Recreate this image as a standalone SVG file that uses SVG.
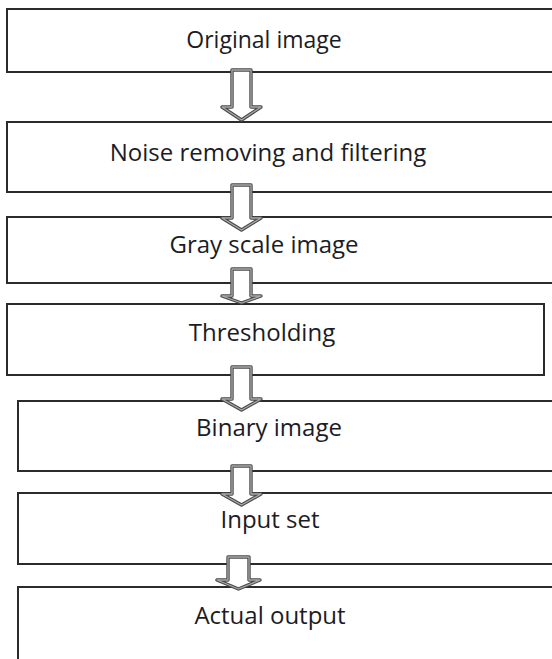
<svg xmlns="http://www.w3.org/2000/svg" width="552" height="659" viewBox="0 0 552 659">
  <style>
    .box { fill: #ffffff; stroke: #2b2b2b; stroke-width: 2; }
    .label { font-family: "Open Sans", "Liberation Sans", sans-serif; font-size: 24px; fill: #1c1c24; text-anchor: middle; }
    .arrow-edge { fill: #ffffff; stroke: #4a4a4a; stroke-width: 3.4; stroke-linejoin: round; }
    .arrow-core { fill: none; stroke: #a8a8a8; stroke-width: 1.3; stroke-linejoin: round; }
  </style>
  <rect width="552" height="659" fill="#ffffff"/>

  <g id="node-original">
    <rect class="box" x="7" y="9" width="560" height="63"/>
    <text class="label" x="264" y="48" style="font-size:23px">Original image</text>
  </g>
  <g id="node-noise">
    <rect class="box" x="7" y="122" width="560" height="70"/>
    <text class="label" x="268" y="161">Noise removing and filtering</text>
  </g>
  <g id="node-gray">
    <rect class="box" x="7" y="217" width="560" height="66"/>
    <text class="label" x="264" y="253">Gray scale image</text>
  </g>
  <g id="node-threshold">
    <rect class="box" x="7" y="304" width="537" height="71"/>
    <text class="label" x="262" y="341">Thresholding</text>
  </g>
  <g id="node-binary">
    <rect class="box" x="18" y="401" width="549" height="70"/>
    <text class="label" x="269" y="436">Binary image</text>
  </g>
  <g id="node-input">
    <rect class="box" x="18" y="493" width="549" height="71"/>
    <text class="label" x="270" y="528">Input set</text>
  </g>
  <g id="node-output">
    <rect class="box" x="18" y="587" width="549" height="90"/>
    <text class="label" x="270" y="624">Actual output</text>
  </g>

  <!-- block arrows between steps: dark outer edge with a lighter core line -->
  <g id="connectors">
    <path class="arrow-edge" d="M232,70 H251 V107 H261 L241.5,120 L222,107 H232 Z"/>
    <path class="arrow-core" d="M232,70 H251 V107 H261 L241.5,120 L222,107 H232 Z"/>
    <path class="arrow-edge" d="M232,185 H251 V218 H261 L241.5,230 L222,218 H232 Z"/>
    <path class="arrow-core" d="M232,185 H251 V218 H261 L241.5,230 L222,218 H232 Z"/>
    <path class="arrow-edge" d="M232,269 H251 V296 H261 L241.5,303 L222,296 H232 Z"/>
    <path class="arrow-core" d="M232,269 H251 V296 H261 L241.5,303 L222,296 H232 Z"/>
    <path class="arrow-edge" d="M232,367 H251 V399 H261 L241.5,410 L222,399 H232 Z"/>
    <path class="arrow-core" d="M232,367 H251 V399 H261 L241.5,410 L222,399 H232 Z"/>
    <path class="arrow-edge" d="M232,466 H251 V494 H261 L241.5,505 L222,494 H232 Z"/>
    <path class="arrow-core" d="M232,466 H251 V494 H261 L241.5,505 L222,494 H232 Z"/>
    <path class="arrow-edge" d="M228,557 H249 V580 H260 L238.5,589 L217,580 H228 Z"/>
    <path class="arrow-core" d="M228,557 H249 V580 H260 L238.5,589 L217,580 H228 Z"/>
  </g>
</svg>
